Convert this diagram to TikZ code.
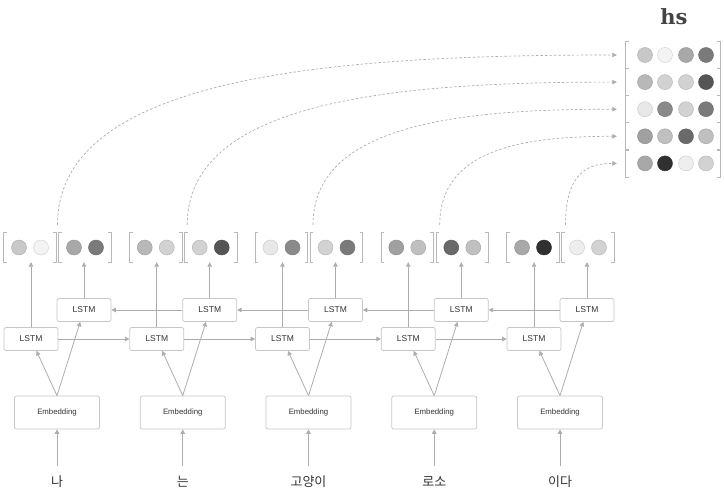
\documentclass[tikz,border=0pt]{standalone}
\usepackage{fontspec}
\setsansfont{Liberation Sans}
\newfontfamily\krfont{Noto Sans CJK KR}
\newfontfamily\hsfont{DejaVu Serif}
\usetikzlibrary{arrows.meta,calc}

% greys
\definecolor{txt}{HTML}{333333}
\definecolor{hsg}{HTML}{444444}
\definecolor{boxg}{HTML}{C6C6C6}
\definecolor{lineg}{HTML}{ADADAD}
\definecolor{brkg}{HTML}{B8B8B8}
\definecolor{g05}{HTML}{F3F3F3}
\definecolor{g07}{HTML}{EEEEEE}
\definecolor{g09}{HTML}{E8E8E8}
\definecolor{g19}{HTML}{D2D2D2}
\definecolor{g22}{HTML}{C8C8C8}
\definecolor{g25}{HTML}{C0C0C0}
\definecolor{g28}{HTML}{B8B8B8}
\definecolor{g34}{HTML}{A8A8A8}
\definecolor{g37}{HTML}{A0A0A0}
\definecolor{g46}{HTML}{8A8A8A}
\definecolor{g52}{HTML}{7A7A7A}
\definecolor{g58}{HTML}{6A6A6A}
\definecolor{g67}{HTML}{555555}
\definecolor{g81}{HTML}{303030}

% a bracketed pair of values
\newcommand{\vecpair}[4]{%
  \node[vecbox] (#1) at (#2) {};
  \draw[brk] ([xshift=3pt]#1.north west) -- (#1.north west) -- (#1.south west) -- ([xshift=3pt]#1.south west);
  \draw[brk] ([xshift=-3pt]#1.north east) -- (#1.north east) -- (#1.south east) -- ([xshift=-3pt]#1.south east);
  \node[dot=#3] (#1-1) at ([xshift=-11pt]#1.center) {};
  \node[dot=#4] (#1-2) at ([xshift=11pt]#1.center) {};
}

\begin{document}
\begin{tikzpicture}[x=1pt,y=-1pt,
  arr/.style={draw=lineg, line width=0.8pt, -{Triangle[width=4.5pt,length=4.5pt]}},
  dline/.style={draw=lineg, line width=0.7pt, dash pattern=on 2.5pt off 2pt,
    shorten >=9pt, -{Triangle[width=4.5pt,length=4.5pt]}},
  lstmbox/.style={draw=boxg, fill=white, rounded corners=2pt, line width=0.7pt,
    minimum width=54pt, minimum height=23pt, inner sep=0pt,
    font=\sffamily\fontsize{8.5}{10}\selectfont, text=txt},
  embbox/.style={draw=boxg, fill=white, rounded corners=2pt, line width=0.7pt,
    minimum width=85pt, minimum height=33pt, inner sep=0pt,
    font=\sffamily\fontsize{7.8}{9}\selectfont, text=txt},
  wordlbl/.style={minimum height=32pt, inner sep=0pt,
    font=\krfont\fontsize{13}{15}\selectfont, text=txt},
  vecbox/.style={minimum width=52pt, minimum height=29pt, inner sep=0pt},
  rowbox/.style={minimum width=94pt, minimum height=27pt, inner sep=0pt},
  brk/.style={draw=brkg, line width=0.8pt},
  dot/.style={circle, minimum size=15pt, inner sep=0pt, fill=#1, draw=#1!85!black, line width=0.4pt}
]
\useasboundingbox (0,0) rectangle (724,503);

% columns: word, embedding, forward and backward LSTM
\foreach \i/\w in {1/나, 2/는, 3/고양이, 4/로소, 5/이다} {
  \pgfmathsetmacro\xf{31+125.75*(\i-1)}
  \pgfmathsetmacro\xb{84+125.75*(\i-1)}
  \pgfmathsetmacro\xe{57+125.75*(\i-1)}
  \node[wordlbl] (w\i) at (\xe,482) {\w};
  \node[embbox] (e\i) at (\xe,412.5) {Embedding};
  \node[lstmbox] (f\i) at (\xf,339) {LSTM};
  \node[lstmbox] (b\i) at (\xb,310) {LSTM};
  \draw[arr] (w\i) -- (e\i);
  \draw[arr] (e\i.north) -- (f\i);
  \draw[arr] (e\i.north) -- (b\i);
}

% recurrent links
\foreach \i in {1,...,4} {
  \pgfmathtruncatemacro\j{\i+1}
  \draw[arr] (f\i) -- (f\j);
  \draw[arr] (b\j) -- (b\i);
}

% hidden states of each direction
\foreach \i/\ca/\cb/\cc/\cd in {1/g22/g05/g34/g52, 2/g28/g19/g19/g67, 3/g09/g46/g19/g52,
                               4/g37/g25/g58/g25, 5/g34/g81/g07/g19} {
  \pgfmathsetmacro\xf{30+125.75*(\i-1)}
  \pgfmathsetmacro\xb{85+125.75*(\i-1)}
  \vecpair{fv\i}{\xf,247.5}{\ca}{\cb}
  \vecpair{bv\i}{\xb,247.5}{\cc}{\cd}
  \draw[arr] (f\i.north) -- (f\i.north |- fv\i.south);
  \draw[arr] (b\i.north) -- (b\i.north |- bv\i.south);
}

% stacked matrix hs
\node[text=hsg, font=\hsfont\bfseries\fontsize{21}{25}\selectfont] (hs) at (674,17) {hs};
\foreach \r/\ca/\cb/\cc/\cd in {1/g22/g05/g34/g52, 2/g28/g19/g19/g67, 3/g09/g46/g19/g52,
                               4/g37/g25/g58/g25, 5/g34/g81/g07/g19} {
  \node[rowbox] (r\r) at (673,{55+27.1*(\r-1)}) {};
  \draw[brk] ([xshift=3pt]r\r.north west) -- (r\r.north west) -- (r\r.south west) -- ([xshift=3pt]r\r.south west);
  \draw[brk] ([xshift=-3pt]r\r.north east) -- (r\r.north east) -- (r\r.south east) -- ([xshift=-3pt]r\r.south east);
  \node[dot=\ca] (r\r-1) at ([xshift=-28pt]r\r.center) {};
  \node[dot=\cb] (r\r-2) at ([xshift=-8pt]r\r.center) {};
  \node[dot=\cc] (r\r-3) at ([xshift=13pt]r\r.center) {};
  \node[dot=\cd] (r\r-4) at ([xshift=33pt]r\r.center) {};
}

% concatenated states copied into hs
\foreach \i/\d/\ca/\cb in {1/0/150/289, 2/4/126/224, 3/4/102/161, 4/5/78/97, 5/5/55/35} {
  \coordinate (j\i) at ($(fv\i.north east)!0.5!(bv\i.north west)+(\d,-8)$);
  \draw[dline] (j\i) .. controls +(0,-\ca) and +(-\cb,0) .. (r\i.west);
}
\end{tikzpicture}
\end{document}
